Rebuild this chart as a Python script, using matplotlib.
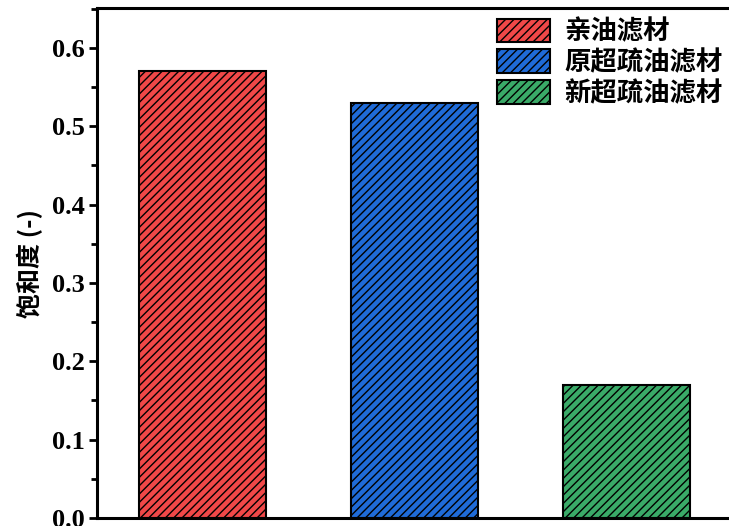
import matplotlib.pyplot as plt
from matplotlib import ticker
import numpy as np

# data
materials = ["亲油滤材", "原超疏油滤材", "新超疏油滤材"]
saturation = [0.57, 0.53, 0.17]
bar_colors = ["#F04848", "#1F6BD8", "#3AAA68"]
y_ticks = [0.0, 0.1, 0.2, 0.3, 0.4, 0.5, 0.6]

plt.rcParams["hatch.linewidth"] = 1.0
plt.rcParams["hatch.color"] = "black"

fig = plt.figure(figsize=(7.29, 5.26), dpi=100)
# axes deliberately runs past the right edge, like the cropped original
ax = fig.add_axes([97 / 729, 8 / 526, 635.5 / 729, 510 / 526])

x_pos = np.arange(1, len(materials) + 1)
for x, v, c, name in zip(x_pos, saturation, bar_colors, materials):
    ax.bar(x, v, width=0.6, color=c, edgecolor="black", linewidth=1.5,
           hatch="////", label=name)

ax.set_xlim(0.5, 3.5)
ax.set_ylim(0, 0.651)
ax.set_xticks([])
ax.set_yticks(y_ticks)
ax.set_yticklabels([f"{t:.1f}" for t in y_ticks],
                   fontfamily="Liberation Serif", fontweight="bold", fontsize=19)
ax.yaxis.set_minor_locator(ticker.MultipleLocator(0.05))
ax.tick_params(axis="y", which="major", length=6, width=2, pad=3)
ax.tick_params(axis="y", which="minor", length=4, width=2)
for s in ax.spines.values():
    s.set_linewidth(2.2)

cjk = ["Noto Sans CJK SC", "DejaVu Sans"]
ax.set_ylabel("饱和度 (-)", family=cjk, fontweight="bold", fontsize=18,
              labelpad=6)

leg = ax.legend(loc="upper left", bbox_to_anchor=(0.613, 1.0), frameon=False,
                prop={"family": cjk, "size": 19, "weight": "bold"},
                handlelength=2.0, handleheight=1.0, labelspacing=0.14,
                handletextpad=0.55, borderaxespad=0.0)

fig.savefig("out.png", dpi=100)
plt.close(fig)
